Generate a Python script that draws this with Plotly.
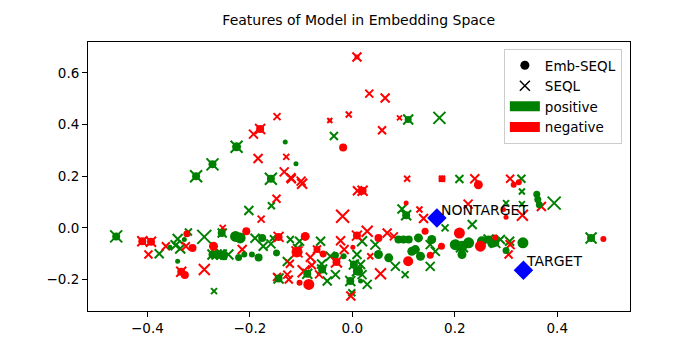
import plotly.graph_objects as go

# SEQL features (x markers): positive / negative
seql_pos_x = [-0.273, -0.305, -0.226, -0.159, -0.036, 0.109, 0.17, 0.209, 0.33, -0.461,
              -0.377, -0.345, -0.341, -0.336, -0.32, -0.289, -0.273, -0.265, -0.255, -0.242,
              -0.27, -0.158, -0.202, -0.254, -0.19, -0.174, -0.159, -0.155, -0.121, -0.103,
              -0.062, -0.107, -0.043, -0.127, -0.06, -0.033, -0.049, -0.001, -0.144, -0.088,
              -0.059, -0.004, 0.009, 0.003, 0.097, 0.105, 0.181, 0.234, 0.019, 0.045,
              0.084, 0.103, 0.152, 0.009, 0.029, 0.019, 0.152, 0.162, 0.214, 0.3,
              0.331, 0.331, 0.394, 0.466, 0.289, 0.307, 0.266, 0.279, 0.016]
seql_pos_y = [0.246, 0.2, 0.314, 0.19, 0.356, 0.42, 0.426, 0.189, 0.19, -0.033,
              -0.1, -0.067, -0.043, -0.08, -0.016, -0.035, -0.103, -0.103, -0.103, -0.103,
              -0.245, 0.086, 0.067, -0.02, -0.04, -0.071, -0.062, -0.04, -0.045, -0.052,
              -0.052, -0.08, -0.11, -0.13, -0.14, -0.181, -0.206, -0.251, -0.196, -0.178,
              -0.161, -0.206, -0.168, -0.142, 0.073, 0.049, 0.0, 0.013, -0.052, -0.065,
              -0.149, -0.181, -0.149, -0.103, -0.219, -0.181, -0.065, -0.091, -0.071, 0.096,
              0.092, 0.141, 0.096, -0.039, -0.045, -0.052, -0.045, -0.058, -0.142]
seql_pos_s = [12, 12, 12, 12, 8, 10, 12, 8, 8, 12,
              9, 10, 10, 10, 7, 14, 10, 10, 10, 10,
              6, 7, 9, 9, 9, 9, 9, 6, 7, 9,
              9, 9, 9, 9, 9, 9, 9, 7, 10, 10,
              10, 10, 10, 10, 9, 10, 7, 9, 10, 10,
              9, 7, 9, 9, 9, 9, 9, 9, 12, 6,
              6, 6, 13, 11, 9, 9, 10, 10, 9]

seql_neg_x = [0.009, -0.007, -0.044, -0.147, -0.18, -0.193, -0.184, -0.129, -0.133, -0.12,
              -0.1, 0.033, 0.064, 0.092, 0.058, 0.107, 0.239, 0.308, -0.41, -0.393,
              -0.398, -0.364, -0.325, -0.253, -0.334, -0.289, -0.119, -0.098, -0.148, -0.178,
              -0.019, 0.01, 0.02, -0.215, -0.144, -0.023, -0.016, 0.009, -0.108, -0.082,
              -0.069, -0.031, -0.122, -0.095, -0.079, -0.065, -0.127, -0.124, -0.147, -0.003,
              0.131, 0.139, 0.226, 0.029, 0.068, 0.081, 0.055, 0.035, 0.369, 0.332,
              0.308, 0.305, 0.175]
seql_neg_y = [0.662, 0.439, 0.416, 0.431, 0.383, 0.363, 0.269, 0.275, 0.217, 0.194,
              0.181, 0.52, 0.503, 0.426, 0.378, 0.19, 0.19, 0.19, -0.052, -0.054,
              -0.103, -0.071, -0.071, 0.0, -0.17, -0.161, 0.19, 0.171, 0.113, 0.034,
              0.045, 0.144, 0.144, -0.084, -0.035, -0.05, -0.084, -0.03, -0.093, -0.114,
              -0.084, -0.132, -0.139, -0.168, -0.145, -0.18, -0.181, -0.2, -0.19, -0.264,
              0.071, 0.036, 0.092, -0.013, -0.02, -0.033, -0.178, -0.11, 0.083, 0.049,
              -0.065, -0.103, 0.19]
seql_neg_s = [9, 6, 5, 7, 10, 9, 9, 6, 9, 9,
              9, 8, 9, 5, 8, 6, 9, 8, 10, 10,
              8, 8, 8, 6, 10, 11, 9, 10, 8, 7,
              13, 9, 10, 9, 10, 9, 9, 10, 11, 9,
              8, 11, 8, 12, 8, 8, 8, 8, 8, 9,
              6, 9, 9, 11, 9, 8, 11, 6, 9, 11,
              9, 8, 6]

# Emb-SEQL features (circles): positive / negative
emb_pos_x = [-0.273, -0.305, -0.226, -0.159, 0.109, -0.461, -0.273, -0.265, -0.255, -0.144,
             -0.088, -0.059, -0.004, 0.009, 0.003, 0.105, 0.466, 0.266, 0.279, -0.131,
             -0.11, -0.356, -0.328, -0.255, -0.341, -0.333, -0.228, -0.219, -0.176, -0.251,
             -0.222, -0.211, -0.183, -0.148, -0.196, -0.033, -0.017, 0.09, 0.1, 0.11,
             0.129, 0.155, 0.201, 0.214, 0.227, 0.214, 0.253, 0.273, 0.051, 0.071,
             0.133, 0.012, 0.016, 0.116, 0.123, 0.36, 0.362, 0.365, 0.333, 0.3]
emb_pos_y = [0.246, 0.2, 0.314, 0.19, 0.42, -0.033, -0.103, -0.103, -0.103, -0.196,
             -0.178, -0.161, -0.206, -0.168, -0.142, 0.049, -0.039, -0.045, -0.058, 0.333,
             0.248, -0.075, -0.045, -0.02, -0.129, -0.175, -0.033, -0.039, -0.039, -0.11,
             -0.115, -0.103, -0.115, -0.097, -0.103, -0.106, -0.11, -0.045, -0.045, -0.045,
             -0.039, -0.045, -0.065, -0.071, -0.058, -0.103, -0.052, -0.058, -0.103, -0.116,
             -0.11, -0.168, -0.206, -0.091, -0.084, 0.13, 0.11, 0.09, -0.058, -0.088]
emb_pos_s = [8, 8, 9, 8, 7, 8, 8, 8, 8, 8,
             8, 8, 8, 8, 8, 8, 8, 8, 8, 5,
             5, 5, 5, 8, 5, 5, 11, 11, 8, 8,
             7, 6, 8, 7, 6, 7, 6, 8, 8, 8,
             9, 9, 11, 11, 11, 9, 10, 10, 9, 9,
             9, 9, 5, 9, 9, 7, 7, 7, 11, 7]

emb_neg_x = [0.009, -0.044, -0.18, -0.018, -0.41, -0.393, -0.323, -0.312, -0.271, -0.334,
             -0.327, -0.207, -0.144, -0.092, 0.001, 0.009, -0.108, -0.069, -0.057, -0.031,
             -0.085, -0.103, 0.02, 0.175, 0.246, 0.105, 0.209, 0.051, 0.142, 0.174,
             0.25, 0.109, 0.152, 0.315, 0.325, 0.295, 0.3, 0.49, 0.279]
emb_neg_y = [0.662, 0.416, 0.383, 0.311, -0.052, -0.054, -0.023, -0.078, -0.071, -0.17,
             -0.183, -0.013, -0.035, -0.033, -0.075, -0.03, -0.093, -0.084, -0.101, -0.132,
             -0.219, -0.213, 0.144, 0.19, 0.167, 0.096, -0.02, -0.039, -0.013, -0.071,
             -0.071, -0.129, -0.106, 0.167, 0.177, 0.071, 0.041, -0.043, -0.037]
emb_neg_s = [5, 4, 8, 8, 8, 8, 7, 8, 9, 8,
             8, 8, 8, 9, 5, 8, 11, 7, 7, 8,
             11, 6, 8, 7, 9, 5, 11, 8, 7, 7,
             11, 10, 7, 6, 6, 5, 5, 6, 6]

target_names = ["NONTARGET", "TARGET"]
target_x = [0.165, 0.334]
target_y = [0.038, -0.164]
label_x = [0.17, 0.336]
label_y = [0.07, -0.128]

GREEN = "#008000"
RED = "#ff0000"

fig = go.Figure()


def add_x(xs, ys, ss, color):
    fig.add_trace(go.Scatter(
        x=xs, y=ys, mode="markers", showlegend=False, hoverinfo="skip",
        marker=dict(symbol="x-thin", size=ss, color=color, opacity=1,
                    line=dict(color=color, width=2))))


def add_dot(xs, ys, ss, color):
    fig.add_trace(go.Scatter(
        x=xs, y=ys, mode="markers", showlegend=False, hoverinfo="skip",
        marker=dict(symbol="circle", size=ss, color=color, opacity=1, line=dict(width=0))))


add_x(seql_pos_x, seql_pos_y, seql_pos_s, GREEN)
add_x(seql_neg_x, seql_neg_y, seql_neg_s, RED)
add_dot(emb_pos_x, emb_pos_y, emb_pos_s, GREEN)
add_dot(emb_neg_x, emb_neg_y, emb_neg_s, RED)

fig.add_trace(go.Scatter(
    x=target_x, y=target_y, mode="markers", showlegend=False, hoverinfo="skip",
    marker=dict(symbol="diamond", size=15, color="#0000ff", opacity=1, line=dict(width=0))))

for name, lx, ly in zip(target_names, label_x, label_y):
    fig.add_annotation(x=lx, y=ly, text=name, showarrow=False,
                       xanchor="left", yanchor="middle",
                       font=dict(size=14, color="black"))

# legend entries
fig.add_trace(go.Scatter(x=[None], y=[None], mode="markers", name="Emb-SEQL",
                         marker=dict(symbol="circle", size=9, color="black")))
fig.add_trace(go.Scatter(x=[None], y=[None], mode="markers", name="SEQL",
                         marker=dict(symbol="x-thin", size=10, color="black",
                                     line=dict(color="black", width=1.5))))
fig.add_trace(go.Scatter(x=[None], y=[None], mode="lines", name="positive",
                         line=dict(color=GREEN, width=10)))
fig.add_trace(go.Scatter(x=[None], y=[None], mode="lines", name="negative",
                         line=dict(color=RED, width=10)))

axis_style = dict(showline=True, mirror=True, linecolor="black", linewidth=1,
                  ticks="outside", ticklen=5, tickwidth=1, tickcolor="black",
                  showgrid=False, zeroline=False, tickfont=dict(size=13.5, color="black"))

fig.update_xaxes(range=[-0.516, 0.542],
                 tickvals=[-0.4, -0.2, 0.0, 0.2, 0.4],
                 ticktext=["\u22120.4", "\u22120.2", "0.0", "0.2", "0.4"], **axis_style)
fig.update_yaxes(range=[-0.322, 0.72],
                 tickvals=[-0.2, 0.0, 0.2, 0.4, 0.6],
                 ticktext=["\u22120.2", "0.0", "0.2", "0.4", "0.6"], **axis_style)

# the page body adds 8px, so the figure is 692x342 with margins shifted by 8
fig.update_layout(
    width=692, height=342,
    margin=dict(l=79.5, r=70, t=34, b=38.5),
    paper_bgcolor="white", plot_bgcolor="white",
    font=dict(family="DejaVu Sans", size=13, color="black"),
    title=dict(text="Features of Model in Embedding Space", x=0.5069, xanchor="center",
               y=0.965, yanchor="middle", font=dict(size=14)),
    legend=dict(x=0.985, y=0.974, xanchor="right", yanchor="top",
                bgcolor="white", bordercolor="#cccccc", borderwidth=1,
                font=dict(size=13.5), itemwidth=30),
)

fig.write_html("out.html")
